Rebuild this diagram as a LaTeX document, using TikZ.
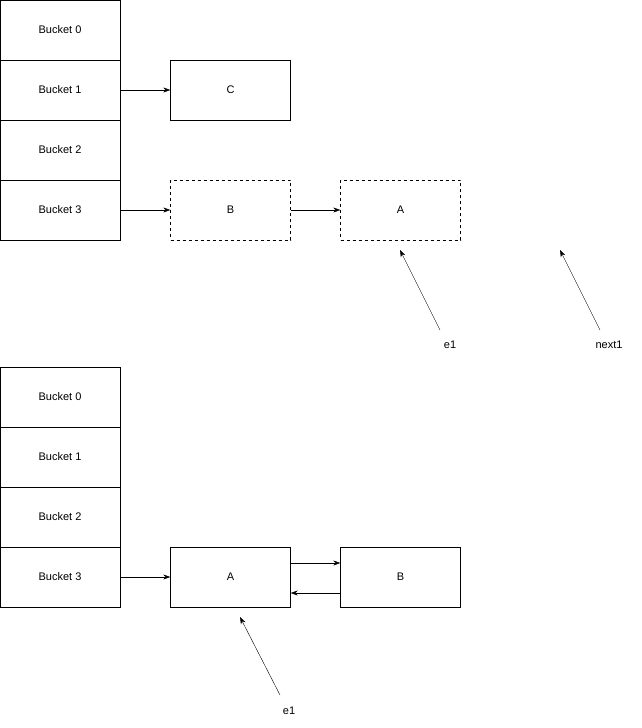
\documentclass[tikz,border=0pt]{standalone}
\usepackage{fontspec}
\setmainfont{Liberation Sans}
\usetikzlibrary{arrows.meta}
\begin{document}
\begin{tikzpicture}[x=1pt,y=-1pt,
  box/.style={draw,thin,minimum width=120pt,minimum height=60pt,inner sep=0pt,font=\fontsize{11}{13}\selectfont},
  dbox/.style={box,dashed},
  arr/.style={-{Stealth[length=7pt,width=5pt]},thin},
  lab/.style={font=\fontsize{11}{13}\selectfont}]
\useasboundingbox (0,0) rectangle (641,728);
% top
\node[box] (t0) at (60,30) {Bucket 0};
\node[box] (t1) at (60,90) {Bucket 1};
\node[box] (t2) at (60,150) {Bucket 2};
\node[box] (t3) at (60,210) {Bucket 3};
\node[box] (tc) at (230.5,90) {C};
\node[dbox] (tb) at (230.5,210) {B};
\node[dbox] (ta) at (400.5,210) {A};
\draw[arr] (t1) -- (tc);
\draw[arr] (t3) -- (tb);
\draw[arr] (tb) -- (ta);
\node[lab] (e1t) at (450,345) {e1};
\node[lab] (nx) at (609,345) {next1};
\coordinate (e1ts) at (440,330);
\coordinate (e1te) at (400,250);
\coordinate (nxs) at (600,330);
\coordinate (nxe) at (560,250);
\draw[arr] (e1ts) -- (e1te);
\draw[arr] (nxs) -- (nxe);
% bottom
\node[box] (b0) at (60,397) {Bucket 0};
\node[box] (b1) at (60,457) {Bucket 1};
\node[box] (b2) at (60,517) {Bucket 2};
\node[box] (b3) at (60,577) {Bucket 3};
\node[box] (ba) at (230.5,577) {A};
\node[box] (bb) at (400.5,577) {B};
\draw[arr] (b3) -- (ba);
\draw[arr] ([yshift=-16pt]bb.west) -- ([yshift=-16pt]ba.east);
\draw[arr] ([yshift=14pt]ba.east) -- ([yshift=14pt]bb.west);
\node[lab] (e1b) at (289,711) {e1};
\coordinate (e1bs) at (280,695);
\coordinate (e1be) at (240,617);
\draw[arr] (e1bs) -- (e1be);
\end{tikzpicture}
\end{document}
